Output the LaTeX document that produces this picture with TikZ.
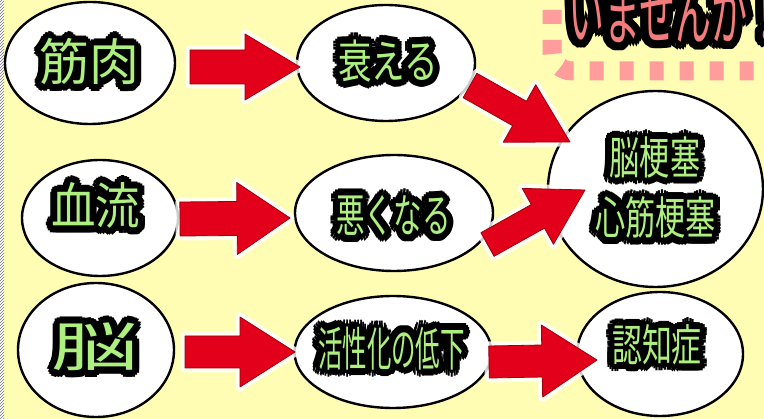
\documentclass[tikz,border=0pt]{standalone}
\usepackage{fontspec}
\usepackage{graphicx}
\newfontfamily\cjk{Noto Sans CJK JP}
\usetikzlibrary{calc,patterns,shapes.geometric}
\definecolor{bgyellow}{HTML}{FFFDB4}
\definecolor{lgreen}{HTML}{AEF080}
\definecolor{arrred}{HTML}{E2001A}
\definecolor{arrdark}{HTML}{9A0010}
\definecolor{pinkc}{HTML}{FF9C9C}
\definecolor{pinktext}{HTML}{F27B7B}
\tikzset{
  bubble/.style={ellipse, draw=black, line width=2.4pt, fill=white, inner sep=0pt},
  halotxt/.style={inner sep=0pt, text=black},
  filltxt/.style={inner sep=0pt},
  arrhalo/.style={draw=white, line width=9pt, line join=round, opacity=0.8},
  arrbody/.style={fill=arrred, draw=arrdark, line width=0.8pt, line join=round},
}
\def\hr{7pt}
\def\hrb{3.5pt}
% [opts]{name}{pos}{size}{xscale}{text}{colour}
\newcommand\lbl[7][]{%
  \foreach \a in {0,22.5,...,337.5}{%
    \node[halotxt,#1] at ($(#3)+(\a:\hr)$) {\cjk\fontsize{#4}{#4}\selectfont\scalebox{#5}[1]{#6}};
    \node[halotxt,#1] at ($(#3)+(\a:\hrb)$) {\cjk\fontsize{#4}{#4}\selectfont\scalebox{#5}[1]{#6}};
  }
  \node[filltxt,text=#7,#1] (#2) at (#3) {\cjk\fontsize{#4}{#4}\selectfont\scalebox{#5}[1]{#6}};
}
% {start}{end}{shaft half}{head half}{head length}
\newcommand\blk[5]{%
  \coordinate (bs) at (#1);
  \coordinate (be) at (#2);
  \coordinate (bh) at ($(be)!#5!(bs)$);
  \path[arrhalo] ($(bs)!#3!90:(be)$) -- ($(bh)!#3!90:(be)$) -- ($(bh)!#4!90:(be)$) -- (be)
     -- ($(bh)!#4!-90:(be)$) -- ($(bh)!#3!-90:(be)$) -- ($(bs)!#3!-90:(be)$) -- cycle;
  \path[arrbody] ($(bs)!#3!90:(be)$) -- ($(bh)!#3!90:(be)$) -- ($(bh)!#4!90:(be)$) -- (be)
     -- ($(bh)!#4!-90:(be)$) -- ($(bh)!#3!-90:(be)$) -- ($(bs)!#3!-90:(be)$) -- cycle;
}
\begin{document}
\begin{tikzpicture}[x=1pt,y=-1pt]
\useasboundingbox (0,0) rectangle (764,419);
\clip (0,0) rectangle (764,419);
\fill[bgyellow] (0,0) rectangle (764,419);
\fill[white] (0,0) rectangle (4,419);
\fill[pattern=north east lines, pattern color=black!55] (0,0) rectangle (4,419);

% pink dashed frame
\draw[pinkc, line width=19pt, dash pattern=on 14pt off 16pt, rounded corners=20pt]
  (552,-20) -- (552,71) -- (800,71);

% bubbles
\node[bubble, minimum width=170pt, minimum height=122pt] (e1) at (90,63) {};
\node[bubble, minimum width=178pt, minimum height=116pt] (e2) at (386,63) {};
\node[bubble, minimum width=156pt, minimum height=116pt] (e3) at (100,218) {};
\node[bubble, minimum width=198pt, minimum height=116pt] (e4) at (394,213) {};
\node[bubble, minimum width=156pt, minimum height=134pt] (e5) at (96,350) {};
\node[bubble, minimum width=197pt, minimum height=112pt] (e6) at (393,352) {};
\node[bubble, minimum width=215pt, minimum height=196pt] (e7) at (655.5,189) {};
\node[bubble, minimum width=166pt, minimum height=124pt] (e8) at (660,354) {};

% arrows
\blk{190,67}{300,67}{17pt}{33pt}{55pt}
\blk{180,219}{290,218}{17pt}{36pt}{53pt}
\blk{185,352}{295,352}{16pt}{35pt}{55pt}
\blk{489,362}{597,360}{16pt}{36pt}{55pt}
\blk{470,85.5}{570,142}{14pt}{33pt}{58pt}
\blk{487.5,244.5}{585,190}{13.5pt}{32pt}{54pt}

% labels
\lbl{t1}{89,62}{50}{1.0}{筋肉}{lgreen}
\lbl{t2}{388,61}{46}{0.73}{衰える}{lgreen}
\lbl{t3}{96,205.5}{50}{0.89}{血流}{lgreen}
\lbl{t4}{393.5,216}{46}{0.62}{悪くなる}{lgreen}
\lbl{t5}{95,347}{53}{1.64}{脳}{lgreen}
\lbl{t6}{391.5,348.5}{47}{0.52}{活性化の低下}{lgreen}
\lbl{t7a}{655,157.5}{45}{0.67}{脳梗塞}{lgreen}
\lbl{t7b}{655.5,217.5}{45}{0.67}{心筋梗塞}{lgreen}
\lbl{t8}{657,345}{44}{0.68}{認知症}{lgreen}

\begin{scope}
\def\hr{8pt}\def\hrb{4pt}
\lbl[anchor=west]{top}{568,13}{72}{0.5}{いませんか！}{pinktext}
\end{scope}
\end{tikzpicture}
\end{document}
